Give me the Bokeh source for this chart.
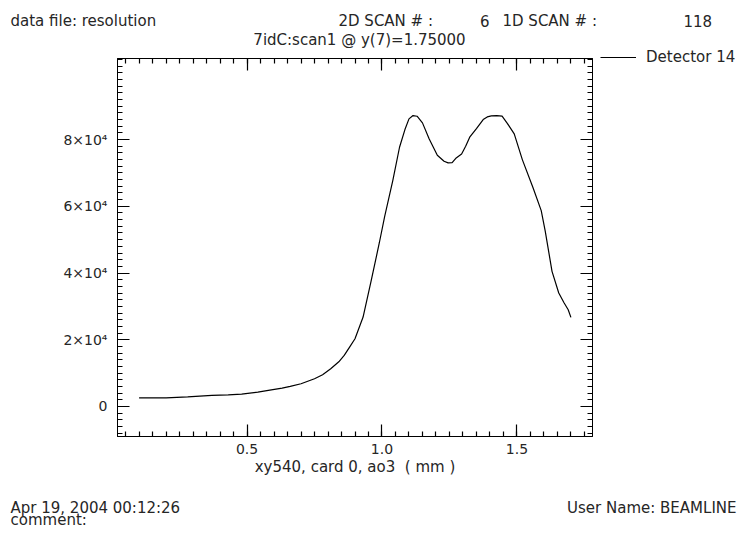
from bokeh.plotting import figure
from bokeh.models import (FixedTicker, LinearAxis, Legend, LegendItem, Range1d,
                          PrintfTickFormatter)
from bokeh.layouts import column, row
from bokeh.core.properties import value
from bokeh.embed import file_html
from bokeh.resources import INLINE

# ---- data ----
pos_mm = [0.10, 0.15, 0.20, 0.28, 0.37, 0.43, 0.48, 0.54, 0.59, 0.63, 0.66, 0.70,
          0.75, 0.78, 0.81, 0.84, 0.86, 0.88, 0.90, 0.93, 0.96, 0.99, 1.01, 1.04,
          1.065, 1.085, 1.10, 1.115, 1.13, 1.15, 1.175, 1.205, 1.23, 1.245, 1.26,
          1.275, 1.295, 1.31, 1.325, 1.35, 1.375, 1.39, 1.405, 1.425, 1.445, 1.465,
          1.49, 1.52, 1.56, 1.59, 1.605, 1.63, 1.655, 1.675, 1.69, 1.70]
detector14 = [2600, 2550, 2600, 2900, 3300, 3500, 3700, 4300, 5000, 5500, 6000, 6800,
              8300, 9500, 11300, 13400, 15300, 17800, 20300, 26800, 37700, 49000, 57000, 67700,
              77700, 83000, 86200, 87200, 87000, 85000, 80200, 75300, 73500, 73000, 73100,
              74500, 75700, 78000, 80700, 83300, 86000, 86800, 87100, 87200, 87000, 84800,
              81700, 74000, 65500, 58700, 52500, 40500, 34000, 31000, 29000, 26700]

x_major = [0.5, 1.0, 1.5]
x_minor = [round(0.05 * i, 2) for i in range(1, 36)]
y_major = [0, 20000, 40000, 60000, 80000]
y_minor = [2000 * i for i in range(-4, 53)]
y_labels = {0: "0", 20000: "2×10⁴", 40000: "4×10⁴", 60000: "6×10⁴", 80000: "8×10⁴"}

title_text = "7idC:scan1 @ y(7)=1.75000"
x_title = "xy540, card 0, ao3 \u00a0( mm )"
series_name = "Detector 14"

header_texts = ["data file: resolution", "2D SCAN # :", "6", "1D SCAN # :", "118"]
footer_texts = ["Apr 19, 2004 00:12:26", "comment:", "User Name: BEAMLINE"]

FONT = "DejaVu Sans"
INK = "#262626"
W = 738
HEAD_H, MAIN_H, FOOT_H = 48, 432, 48
MAIN_W = 600


def blank_fig(w, h):
    f = figure(width=w, height=h, output_backend="svg", toolbar_location=None,
               x_range=Range1d(0, w), y_range=Range1d(h, 0),
               min_border=0, x_axis_location=None, y_axis_location=None)
    f.grid.visible = False
    f.outline_line_color = None
    return f


# ---- header: file info + title ----
head = blank_fig(W, HEAD_H)
head.text(x=[10, 338, 489, 502, 683], y=[20, 20, 20, 20, 20], text=header_texts,
          text_align=["left", "left", "right", "left", "left"], text_baseline="middle",
          text_font=value(FONT), text_font_size="15px", text_color=INK)
head.text(x=[359], y=[39], text=[title_text], text_align="center", text_baseline="middle",
          text_font=value(FONT), text_font_size="15px", text_color=INK)

# ---- main plot ----
p = figure(width=MAIN_W, height=MAIN_H, output_backend="svg", toolbar_location=None,
           x_range=Range1d(0.02, 1.78), y_range=Range1d(-9000, 104300),
           min_border_left=117, min_border_right=MAIN_W - 592,
           min_border_top=10, min_border_bottom=MAIN_H - 388,
           x_axis_location=None, y_axis_location=None)
p.grid.visible = False
p.outline_line_color = "black"
p.outline_line_width = 1

line = p.line(pos_mm, detector14, line_color="black", line_width=1.2)


def style_axis(ax, labels=True):
    ax.axis_line_color = "black"
    ax.axis_line_width = 1
    ax.major_tick_in = 12
    ax.major_tick_out = 0
    ax.minor_tick_in = 5
    ax.minor_tick_out = 0
    ax.major_tick_line_color = "black"
    ax.minor_tick_line_color = "black"
    ax.major_tick_line_width = 1.2
    ax.minor_tick_line_width = 1.2
    ax.major_label_text_font = FONT
    ax.major_label_text_font_size = "14px"
    ax.major_label_text_color = INK
    if not labels:
        ax.major_label_overrides = {t: "" for t in ax.ticker.ticks}
        ax.major_label_standoff = 0


xb = LinearAxis(ticker=FixedTicker(ticks=x_major, minor_ticks=x_minor),
                formatter=PrintfTickFormatter(format="%.1f"),
                axis_label=x_title, axis_label_standoff=1,
                axis_label_text_font=FONT, axis_label_text_font_size="15px",
                axis_label_text_font_style="normal", axis_label_text_color=INK)
style_axis(xb)
xb.major_label_standoff = 7
p.add_layout(xb, "below")

xt = LinearAxis(ticker=FixedTicker(ticks=x_major, minor_ticks=x_minor))
style_axis(xt, labels=False)
p.add_layout(xt, "above")

yl = LinearAxis(ticker=FixedTicker(ticks=y_major, minor_ticks=y_minor),
                major_label_overrides=y_labels)
style_axis(yl)
yl.major_label_standoff = 10
p.add_layout(yl, "left")

yr = LinearAxis(ticker=FixedTicker(ticks=y_major, minor_ticks=y_minor))
style_axis(yr, labels=False)
p.add_layout(yr, "right")

# ---- legend, drawn beside the frame's top-right corner ----
nan = float("nan")
leg_fig = blank_fig(W - MAIN_W, 30)
proxy = leg_fig.line(x=[nan, nan], y=[nan, nan], line_color="black", line_width=1.2)
legend = Legend(items=[LegendItem(label=series_name, renderers=[proxy], index=0)],
                location="top_left", glyph_width=36, glyph_height=14, label_height=14,
                label_standoff=10, padding=0, margin=0, spacing=0,
                border_line_color=None, background_fill_alpha=0,
                label_text_font=FONT, label_text_font_size="15px", label_text_color=INK)
leg_fig.add_layout(legend)

# ---- footer: date, comment, user ----
foot = blank_fig(W, FOOT_H)
foot.text(x=[10, 10, 736], y=[36, 48, 36], text=footer_texts,
          text_align=["left", "left", "right"], text_baseline="bottom",
          text_font=value(FONT), text_font_size="15px", text_color=INK)

layout = column(row(head), row(p, column(leg_fig)), row(foot), spacing=0)
open("out.html", "w").write(file_html(layout, INLINE))
